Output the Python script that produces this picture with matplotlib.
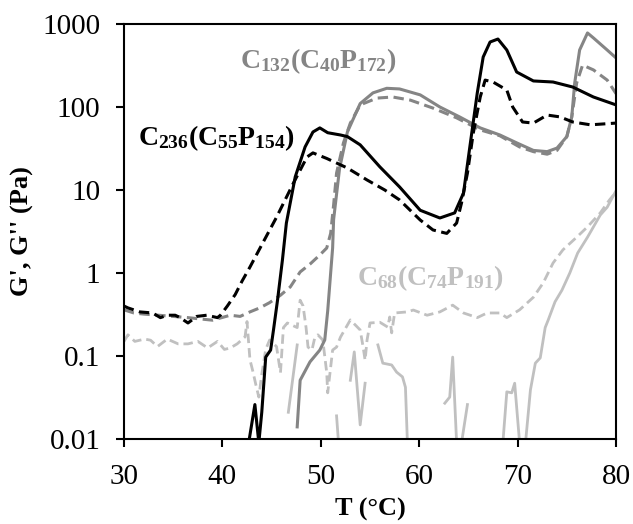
import numpy as np
import matplotlib
matplotlib.use("Agg")
import matplotlib.pyplot as plt

plt.rcParams['font.family'] = ['Liberation Serif', 'DejaVu Serif']
plt.rcParams['mathtext.fontset'] = 'custom'
plt.rcParams['mathtext.rm'] = 'Liberation Serif:bold'
plt.rcParams['mathtext.bf'] = 'Liberation Serif:bold'
plt.rcParams['mathtext.it'] = 'Liberation Serif:bold'

nan = np.nan

# C236(C55P154) - black
bs_T = [42.6, 43.3, 43.7, 44.0, 44.4, 44.9, 45.2, 45.6, 46.1, 46.5, 47.4, 48.4, 49.2, 49.9, 50.7, 52.0,
        52.7, 54.0, 56.0, 58.0, 60.1, 62.1, 63.6, 64.5, 65.2, 65.9, 66.5, 67.2, 68.0, 68.9, 69.9, 71.6,
        73.6, 75.6, 77.7, 80.0]
bs_G = [0.008, 0.026, 0.009, 0.021, 0.097, 0.118, 0.21, 0.47, 1.44, 4.0, 14.4, 33, 50, 56, 49, 46,
        44, 35, 19, 10.9, 5.7, 4.6, 5.3, 9.2, 37, 148, 400, 607, 659, 486, 264, 206,
        200, 174, 132, 106]
bd_T = [30.0, 30.4, 31.6, 32.9, 33.7, 34.4, 35.2, 35.7, 36.5, 37.4, 38.4, 39.5, 39.8, 40.5, 41.3, 42.0,
        42.8, 44.1, 45.5, 47.2, 48.6, 49.2, 50.6, 52.7, 54.7, 56.5, 58.0, 60.1, 61.4, 62.8, 63.8, 64.3,
        64.9, 65.5, 66.2, 66.7, 67.5, 68.9, 69.5, 70.5, 71.6, 73.0, 74.3, 75.6, 77.4, 80.0]
bd_G = [0.40, 0.38, 0.34, 0.33, 0.29, 0.31, 0.31, 0.29, 0.25, 0.30, 0.31, 0.29, 0.31, 0.40, 0.55, 0.80,
        1.18, 2.3, 4.7, 12, 25, 28, 24, 18.4, 13.2, 10, 7.6, 4.35, 3.3, 3.0, 4.0, 7.0,
        16, 49, 132, 211, 200, 160, 100, 66, 64, 80, 76, 66, 61, 64]

# C132(C40P172) - mid grey
gs_T = [47.6, 47.9, 48.9, 49.9, 50.4, 50.7, 51.0, 51.2, 51.3, 51.9, 52.7, 54.0, 55.3, 56.7, 58.0, 60.1,
        62.1, 64.1, 66.2, 68.2, 69.9, 71.6, 73.0, 74.0, 75.0, 75.5, 75.8, 76.3, 77.1, 77.7, 79.1, 80.0]
gs_G = [0.014, 0.051, 0.085, 0.118, 0.156, 0.35, 1.0, 2.0, 4.4, 18, 50, 110, 148, 168, 165, 140,
        100, 76, 56, 46, 37, 30, 29, 32, 44, 76, 195, 486, 780, 680, 486, 390]
gd_T = [30.0, 31.0, 32.0, 33.5, 35.0, 36.5, 37.7, 39.0, 40.8, 41.8, 42.8, 43.8, 44.8, 45.9, 46.9, 47.9,
        48.9, 49.9, 50.6, 51.0, 51.3, 51.6, 52.3, 53.0, 54.0, 55.7, 57.3, 59.1, 61.4, 63.8, 66.2, 68.2,
        70.2, 71.6, 73.0, 74.0, 75.0, 75.5, 76.0, 76.6, 77.7, 79.1, 80.0]
gd_G = [0.36, 0.33, 0.32, 0.31, 0.30, 0.29, 0.28, 0.27, 0.31, 0.30, 0.34, 0.38, 0.44, 0.54, 0.68, 1.03,
        1.28, 1.65, 2.0, 3.0, 6.6, 16, 37, 64, 106, 128, 132, 121, 97, 74, 53, 45,
        33, 29, 27, 30, 44, 76, 195, 320, 280, 211, 145]

# C68(C74P191) - light grey (gaps where G' drops out)
ls_T = [46.7, 47.6, nan, 51.6, 51.8, nan, 53.0, 53.4, 54.0, 54.5, nan, 55.8, 56.3, 57.2, 57.7, 58.3,
        58.6, 58.8, nan, 62.6, 63.1, 63.4, 63.8, nan, 64.3, 64.9, nan, 68.5, 68.9, 69.4, 69.7, 70.2,
        nan, 70.8, 71.3, 71.8, 72.3, 72.8, 73.1, 73.8, 74.5, 75.3, 76.1, 77.1, 78.4, 79.1, 80.0]
ls_G = [0.021, 0.136, nan, 0.019, 0.009, nan, 0.051, 0.112, 0.0148, 0.047, nan, 0.136, 0.082, 0.078, 0.064, 0.056,
        0.042, 0.009, nan, 0.027, 0.032, 0.097, 0.009, nan, 0.009, 0.026, nan, 0.009, 0.037, 0.036, 0.047, 0.009,
        nan, 0.009, 0.039, 0.082, 0.095, 0.22, 0.27, 0.45, 0.62, 1.0, 1.74, 2.7, 5.0, 6.2, 9.8]
ld_T = [30.0, 30.4, 31.1, 32.1, 32.7, 33.4, 34.4, 35.5, 36.5, 37.5, 38.5, 39.5, 40.2, 40.8, 41.5, 42.3,
        42.5, 42.8, 43.1, 43.4, 43.7, 44.0, 44.4, 44.8, 45.5, 45.9, 46.2, 46.6, 47.6, 47.9, 48.2, 48.5,
        48.7, 49.1, 49.4, 49.7, 50.2, 50.6, 50.7, 51.2, 51.6, 52.0, 53.0, 54.0, 54.3, 54.5, 54.7, 55.0,
        56.0, 56.8, 57.0, 57.2, 57.5, 58.8, 59.4, 60.8, 62.1, 63.4, 64.5, 65.9, 66.9, 68.2, 68.9, 70.2,
        71.6, 72.6, 73.6, 74.6, 76.0, 77.1, 78.4, 79.3, 80.0]
ld_G = [0.15, 0.18, 0.15, 0.16, 0.155, 0.13, 0.16, 0.14, 0.14, 0.15, 0.125, 0.15, 0.12, 0.125, 0.14, 0.17,
        0.26, 0.09, 0.065, 0.045, 0.032, 0.06, 0.12, 0.156, 0.13, 0.063, 0.22, 0.25, 0.22, 0.47, 0.40, 0.22,
        0.128, 0.118, 0.169, 0.18, 0.156, 0.063, 0.036, 0.118, 0.128, 0.169, 0.272, 0.206, 0.128, 0.089, 0.156, 0.25,
        0.255, 0.223, 0.295, 0.19, 0.33, 0.34, 0.358, 0.31, 0.34, 0.41, 0.33, 0.29, 0.33, 0.33, 0.29, 0.36,
        0.51, 0.76, 1.32, 1.9, 2.7, 3.6, 5.3, 7.5, 9.5]

x_ticks = [30, 40, 50, 60, 70, 80]
y_ticks = [0.01, 0.1, 1, 10, 100, 1000]
y_labels = ['0.01', '0.1', '1', '10', '100', '1000']

c_black = '#000000'
c_mid = '#858585'
c_light = '#c0c0c0'

fig = plt.figure(figsize=(6.33, 5.24), dpi=100)
ax = fig.add_axes([0.1959, 0.1622, 0.7773, 0.7920])

lw = 2.2
dash = (3.4, 1.8)
ax.plot(ld_T, ld_G, color=c_light, lw=2.0, dashes=dash)
ax.plot(ls_T, ls_G, color=c_light, lw=2.0)
ax.plot(gd_T, gd_G, color=c_mid, lw=lw, dashes=dash)
ax.plot(gs_T, gs_G, color=c_mid, lw=lw)
ax.plot(bd_T, bd_G, color=c_black, lw=lw, dashes=dash)
ax.plot(bs_T, bs_G, color=c_black, lw=lw)

ax.set_yscale('log')
ax.set_xlim(30, 80)
ax.set_ylim(0.01, 1000)
ax.set_xticks(x_ticks)
ax.set_xticklabels([str(v) for v in x_ticks])
ax.set_yticks(y_ticks)
ax.set_yticklabels(y_labels)
ax.minorticks_off()
ax.tick_params(axis='both', direction='out', length=6, width=1.5, labelsize=21)
ax.tick_params(axis='y', pad=11)
ax.tick_params(axis='x', pad=12)
for s in ax.spines.values():
    s.set_linewidth(1.5)

ax.set_xlabel('T (°C)', fontsize=19, fontweight='bold', labelpad=6)
ax.set_ylabel("G', G'' (Pa)", fontsize=19, fontweight='bold', labelpad=6)

ax.text(31.4, 35, r'C$_{\mathbf{236}}$(C$_{\mathbf{55}}$P$_{\mathbf{154}}$)', color=c_black,
        fontsize=20, fontweight='bold', va='baseline', ha='left')
ax.text(41.8, 295, r'C$_{\mathbf{132}}$(C$_{\mathbf{40}}$P$_{\mathbf{172}}$)', color=c_mid,
        fontsize=20, fontweight='bold', va='baseline', ha='left')
ax.text(53.7, 0.716, r'C$_{\mathbf{68}}$(C$_{\mathbf{74}}$P$_{\mathbf{191}}$)', color=c_light,
        fontsize=20, fontweight='bold', va='baseline', ha='left')

fig.savefig('out.png', dpi=100)
